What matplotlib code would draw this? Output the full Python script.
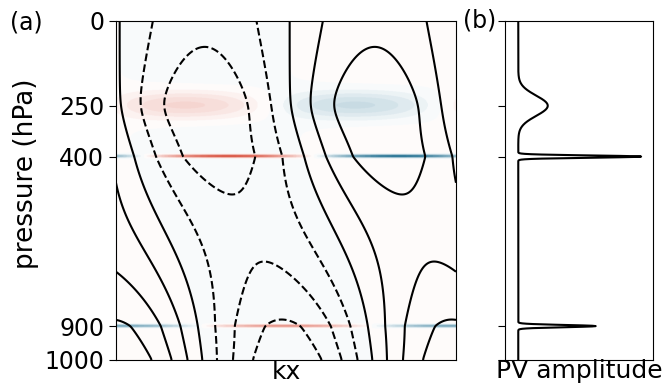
import numpy as np
import matplotlib.pyplot as plt
from matplotlib.colors import LinearSegmentedColormap, BoundaryNorm

# PV anomalies: level (hPa), half-width (hPa), amplitude, phase (fraction of wavelength)
pv_levels = [250, 400, 900]
pv_widths = [30, 3.3, 3.3]
pv_amps = [0.24, 1.0, 0.63]
pv_phases = [0.21, 0.33, 0.50]
pv_baseline = 0.108

# streamfunction response: source level (hPa), amplitude, phase, smoothing (hPa)
psi_levels = [250, 400, 900, 1000]
psi_amps = [2.15, 1.016, 0.816, 2.852]
psi_phases = [0.21, 0.33, 0.50, 0.54]
psi_smooth = [40, 3, 3, 3]
decay = 340.0
top_reflect = 0.3
bottom_reflect = 0.5
psi_contours = [-3, -2, -1, 0, 1, 2, 3]

p_ticks = [0, 250, 400, 900, 1000]

x = np.linspace(0, 1, 400)
p = np.linspace(0, 1000, 1001)
X, P = np.meshgrid(x, p)

# PV field
q = np.zeros_like(X)
for lev, w, a, ph in zip(pv_levels, pv_widths, pv_amps, pv_phases):
    q += a * np.exp(-(P - lev) ** 2 / (2 * w ** 2)) * np.cos(2 * np.pi * (X - ph))

# streamfunction: positive PV -> negative psi
psi = np.zeros_like(X)
for lev, a, ph, s in zip(psi_levels, psi_amps, psi_phases, psi_smooth):
    r = np.sqrt((P - lev) ** 2 + s ** 2) - s
    g = np.exp(-r / decay) + top_reflect * np.exp(-(P + lev) / decay)
    if lev < 1000:
        g += bottom_reflect * np.exp(-(2000 - lev - P) / decay)
    psi -= a * g * np.cos(2 * np.pi * (X - ph))

# tiny tint so the background shows the sign of psi
fill = q + 0.01 * psi

cmap = LinearSegmentedColormap.from_list('pv', ['#0b6186', '#ffffff', '#d43d28'])
levels = np.arange(-20, 21) * 0.05
norm = BoundaryNorm(levels, cmap.N, extend='both')

fig = plt.figure(figsize=(6.65, 3.87), dpi=100)
ax1 = fig.add_axes([0.1744, 0.0698, 0.5113, 0.876])
ax2 = fig.add_axes([0.7594, 0.0698, 0.2226, 0.876])

ax1.imshow(fill, extent=(0, 1, 1000, 0), aspect='auto', cmap=cmap, norm=norm,
           interpolation='antialiased')
ax1.contour(X, P, psi, levels=psi_contours, colors='k', linewidths=1.5)
ax1.set_ylim(1000, 0)
ax1.set_xlim(0, 1)
ax1.set_xticks([])
ax1.set_yticks(p_ticks)
ax1.tick_params(labelsize=17, length=5)
ax1.set_ylabel('pressure (hPa)', fontsize=19)
ax1.yaxis.set_label_coords(-0.225, 0.55)
ax1.set_xlabel('kx', fontsize=18, labelpad=0)

# PV amplitude profile
amp = np.full_like(p, pv_baseline)
for lev, w, a in zip(pv_levels, pv_widths, pv_amps):
    amp += a * np.exp(-(p - lev) ** 2 / (2 * w ** 2))
ax2.plot(amp, p, color='k', lw=1.5)
ax2.set_ylim(1000, 0)
ax2.set_xlim(0, 1.205)
ax2.set_xticks([])
ax2.set_yticks(p_ticks)
ax2.set_yticklabels([])
ax2.tick_params(length=5)
ax2.set_xlabel('PV amplitude', fontsize=18, labelpad=-1)

fig.text(0.015, 0.943, '(a)', fontsize=17, va='center')
fig.text(0.696, 0.948, '(b)', fontsize=17, va='center')

fig.savefig('out.png', dpi=100)
